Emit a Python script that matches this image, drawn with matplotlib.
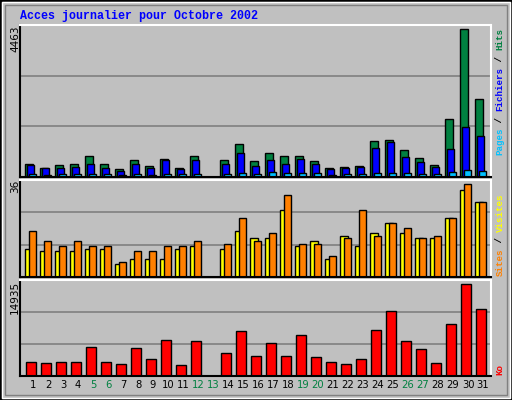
import matplotlib
matplotlib.use("Agg")
import matplotlib.pyplot as plt
from matplotlib.patches import Rectangle

days = list(range(1, 32))
hits = [384,283,354,384,626,404,232,505,323,535,263,626,0,505,1010,475,737,626,626,475,263,293,323,1081,1131,808,566,354,1747,4463,2353]
files = [354,263,263,293,384,263,172,384,263,505,232,505,0,384,717,323,505,384,535,384,232,263,293,869,1050,596,444,293,838,1505,1232]
pages = [81,50,81,81,81,81,50,81,50,81,81,81,0,81,111,81,141,111,111,111,50,81,81,111,111,111,81,81,141,202,172]
sites = [11,10,10,10,11,11,5,7,7,7,11,12,0,11,18,15,15,26,12,14,7,16,12,17,21,17,15,15,23,34,29]
visits = [18,14,12,14,12,12,6,10,10,12,12,14,0,13,23,14,17,32,13,13,8,15,26,16,21,19,15,16,23,36,29]
ko = [2344,2180,2344,2344,4796,2344,2017,4633,2834,5941,1853,5777,0,3815,7357,3325,5450,3325,6703,3161,2344,2017,2834,7521,10519,5777,4469,2180,8502,14935,10845]
weekend = [5,6,12,13,19,20,26,27]
title = "Acces journalier pour Octobre 2002"

W, H = 512, 400
fig = plt.figure(figsize=(W/100, H/100), dpi=100)
fig.patch.set_facecolor("#C0C0C0")
fig.patches.append(Rectangle((0, 0), 1, 1, transform=fig.transFigure, fill=False, ec="black", lw=2))
fig.patches.append(Rectangle((2/W, 2/H), 1-4/W, 1-4/H, transform=fig.transFigure, fill=False, ec="white", lw=1))
fig.patches.append(Rectangle((5/W, 5/H), 1-10/W, 1-10/H, transform=fig.transFigure, fill=False, ec="#808080", lw=1))

mono = "Liberation Mono"
def mk(top, bot):
    ax = fig.add_axes([20/W, (H-bot)/H, 471/W, (bot-top)/H])
    ax.set_facecolor("#C0C0C0")
    ax.set_xlim(0.133, 31.53)
    for s in ("left", "bottom"):
        ax.spines[s].set_color("black"); ax.spines[s].set_linewidth(1.5)
    for s in ("top", "right"):
        ax.spines[s].set_color("white"); ax.spines[s].set_linewidth(1.5)
    ax.set_yticks([]); ax.set_xticks([])
    return ax

def grid(ax, top):
    ax.set_ylim(0, top)
    for f in (1/3, 2/3):
        ax.axhline(top*f, color="#808080", lw=1.2, zorder=0)

kw = dict(edgecolor="black", linewidth=1, align="edge", zorder=2)
ax1 = mk(25, 177); grid(ax1, 4596)
ax1.bar([d-0.533 for d in days], hits, 0.55, color="#008040", **kw)
ax1.bar([d-0.4 for d in days], files, 0.49, color="#0000FF", **kw)
ax1.bar([d-0.25 for d in days], pages, 0.47, color="#00C0FF", **kw)

ax2 = mk(180, 277); grid(ax2, 37.7)
ax2.bar([d-0.533 for d in days], sites, 0.55, color="#FFFF00", **kw)
ax2.bar([d-0.25 for d in days], visits, 0.47, color="#FF8000", **kw)

ax3 = mk(280, 376); grid(ax3, 15640)
ax3.bar([d-0.47 for d in days], ko, 0.7, color="#FF0000", **kw)
ax3.set_xticks(days)
ax3.set_xticklabels([str(d) for d in days], fontfamily="DejaVu Sans", fontsize=7.2)
ax3.tick_params(axis="x", length=0, pad=3)
for t, d in zip(ax3.get_xticklabels(), days):
    t.set_color("#008040" if d in weekend else "black")

fig.text(20/W, 1-16/H, title, color="#0000FF", fontfamily=mono, fontweight="bold", fontsize=8.4, va="center")

def lefttxt(s, ytop):
    fig.text(15/W, 1-ytop/H, s, rotation=90, ha="center", va="top", fontfamily="DejaVu Sans", fontsize=7.5)
lefttxt("4463", 26); lefttxt("36", 180); lefttxt("14935", 281)

fs = 6.6
adv = 0.6*fs*100/72
def right(segs, ybot):
    off = 0
    for s, c in segs:
        fig.text(500/W, 1-(ybot-off*adv)/H, s, rotation=90, ha="center", va="bottom", color=c, fontfamily=mono, fontweight="bold", fontsize=fs)
        off += len(s)
right([("Pages", "#00C0FF"), (" / ", "black"), ("Fichiers", "#0000FF"), (" / ", "black"), ("Hits", "#008040")], 155)
right([("Sites", "#FF8000"), (" / ", "black"), ("Visites", "#FFFF00")], 276)
right([("Ko", "#FF0000")], 375)

fig.savefig("out.png", dpi=100, facecolor=fig.get_facecolor())
